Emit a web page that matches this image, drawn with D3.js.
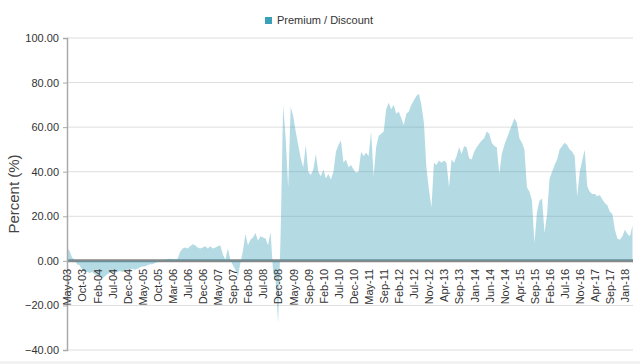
<!DOCTYPE html>
<html>
<head>
<meta charset="utf-8">
<script src="https://cdn.jsdelivr.net/npm/d3@7"></script>
<style>
  body { margin: 0; background: #fff; }
  svg { display: block; font-family: "Liberation Sans", Arial, sans-serif; }
</style>
</head>
<body>
<svg width="640" height="364"></svg>
<script>
const seriesName = "Premium / Discount";

const tickLabels = ["May-03","Oct-03","Feb-04","Jul-04","Dec-04","May-05","Oct-05","Mar-06","Jul-06","Dec-06",
  "May-07","Sep-07","Feb-08","Jul-08","Dec-08","May-09","Sep-09","Feb-10","Jul-10","Dec-10",
  "May-11","Sep-11","Feb-12","Jul-12","Nov-12","Apr-13","Sep-13","Jan-14","Jun-14","Nov-14",
  "Apr-15","Sep-15","Feb-16","Jul-16","Nov-16","Apr-17","Sep-17","Jan-18"];

// one label every 6 points
const labelStep = 6;

// premium / discount in percent
const premium = [
  6, 4.5, 1.5, 0.5, -1.5, -2,
  -4, -5, -5, -5.5, -5, -6,
  -6.5, -7, -8, -7, -6, -5.5,
  -5, -5.5, -5, -4.5, -5, -4.5,
  -4, -4, -3.5, -4, -3.5, -3,
  -2.5, -2.5, -2, -1.5, -1.5, -1,
  -0.5, -0.3, 0.5, 0.3, 0.8, 1,
  0.8, 0.5, 1, 4, 5.5, 6,
  5.5, 6.5, 7.5, 7, 6, 5.5,
  6, 6.5, 5.5, 6.5, 5.5, 6,
  6.5, 7, 3, 0.5, 5.5, 0.5,
  -2, -4, -7, -1, 4.5, 12,
  7, 9.5, 10.5, 12.5, 9, 11,
  10.5, 10, 7, 13, -5, -9,
  -28, 12, 70, 55, 33, 69,
  65, 58, 52, 46, 42, 52,
  40, 38.5, 41, 48, 40, 38,
  41, 37, 39, 36.5, 40, 49,
  52, 54, 44, 45.5, 42, 43,
  41, 39.5, 40, 49, 47, 48.5,
  47, 58, 38, 51, 56, 57,
  58, 68, 71, 68, 70, 66,
  67, 64, 61, 66, 67, 70,
  72, 74, 75, 70, 62, 42,
  32, 24, 44, 43, 45, 44,
  45, 44, 33, 45.5, 44, 47,
  51, 48, 51.5, 51, 46, 45.5,
  49, 51, 52.5, 54, 55, 58,
  57, 53, 51.5, 51, 39, 48,
  52, 55, 58, 61, 64, 62,
  55, 53, 50, 33, 31, 27,
  8, 22, 27, 28, 12.5, 21,
  37, 40, 43, 45.5, 50, 51.5,
  53, 52, 50, 49, 47, 29,
  40, 45, 50, 33.5, 31, 30,
  30, 29, 29.5, 27.5, 26, 25,
  22, 21, 14, 10, 9.5, 11,
  14, 12, 11, 16
];

const yTicks = [-40, -20, 0, 20, 40, 60, 80, 100];

const svg = d3.select("svg");
const plotLeft = 67, plotRight = 632.5, plotTop = 38, plotBottom = 350;

const x = d3.scaleLinear().domain([0, premium.length - 1]).range([plotLeft, plotRight]);
const y = d3.scaleLinear().domain([-40, 100]).range([plotBottom, plotTop]);

// faint strip at the very bottom
svg.append("rect").attr("x", 0).attr("y", 361).attr("width", 640).attr("height", 3).attr("fill", "#f2f2f2");

// gridlines
svg.append("g")
  .selectAll("line")
  .data(yTicks)
  .join("line")
    .attr("x1", plotLeft).attr("x2", 633)
    .attr("y1", d => y(d)).attr("y2", d => y(d))
    .attr("stroke", "#dedede");

// zero line
svg.append("line")
  .attr("x1", plotLeft).attr("x2", 633)
  .attr("y1", y(0)).attr("y2", y(0))
  .attr("stroke", "#888").attr("stroke-width", 3);

// area
const area = d3.area()
  .x((d, i) => x(i))
  .y0(y(0))
  .y1(d => y(d));

svg.append("path")
  .datum(premium)
  .attr("d", area)
  .attr("fill", "#3aa0b8")
  .attr("fill-opacity", 0.38);

// y axis
const yAxis = svg.append("g")
  .attr("transform", `translate(${plotLeft},0)`)
  .call(d3.axisLeft(y).tickValues(yTicks).tickFormat(d3.format(".2f")).tickSize(4).tickPadding(4));
yAxis.select(".domain").attr("stroke", "#aaa").attr("stroke-width", 1.5);
yAxis.selectAll(".tick line").attr("stroke", "#aaa");
yAxis.selectAll("text").attr("font-size", 11).attr("fill", "#333").attr("font-family", "Liberation Sans, Arial, sans-serif");

// x labels
const xAxis = svg.append("g")
  .attr("transform", `translate(0,${y(0)})`)
  .call(d3.axisBottom(x)
    .tickValues(tickLabels.map((d, i) => i * labelStep))
    .tickFormat(d => tickLabels[d / labelStep])
    .tickSize(0));
xAxis.select(".domain").remove();
xAxis.selectAll("text")
  .attr("font-size", 11)
  .attr("fill", "#333")
  .attr("font-family", "Liberation Sans, Arial, sans-serif")
  .attr("text-anchor", "end")
  .attr("transform", "rotate(-90)")
  .attr("x", -8)
  .attr("y", 0)
  .attr("dy", "0.35em");

// y title
svg.append("text")
  .attr("transform", `translate(19,${(plotTop + plotBottom) / 2}) rotate(-90)`)
  .attr("text-anchor", "middle")
  .attr("font-size", 15)
  .attr("fill", "#444")
  .text("Percent (%)");

// legend
const legend = svg.append("g").attr("transform", "translate(265,12)");
legend.append("rect").attr("x", 0).attr("y", 5).attr("width", 7).attr("height", 7).attr("fill", "#3aa0b8");
legend.append("text").attr("x", 12).attr("y", 12).attr("font-size", 11).attr("fill", "#333").text(seriesName);
</script>
</body>
</html>
